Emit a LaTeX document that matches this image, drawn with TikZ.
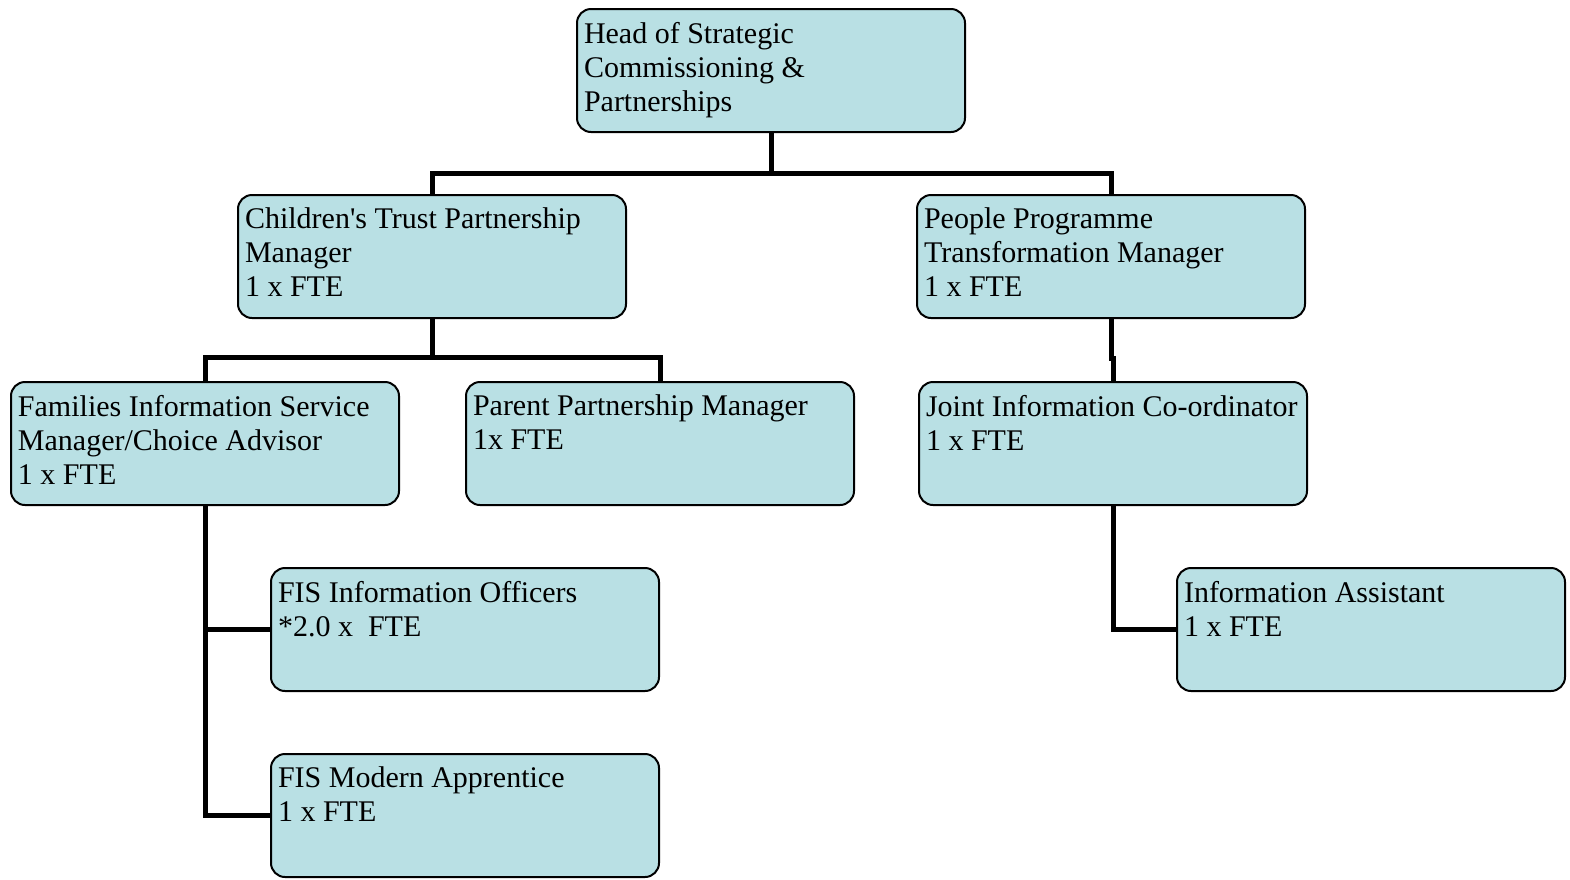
\documentclass[tikz,border=0pt]{standalone}
\usepackage{fontspec}
\setmainfont{Liberation Serif}
\definecolor{boxfill}{RGB}{185,224,228}
\newcommand{\boxtext}[1]{\parbox[c][61.5pt][t]{187pt}{\vspace{6.5pt}\raggedright #1}}
\tikzset{
	unit/.style={draw, line width=1pt, rounded corners=7pt, fill=boxfill, anchor=north west,
		inner xsep=3.5pt, inner ysep=0pt, font=\fontsize{15}{17}\selectfont},
	link/.style={line width=2.5pt}
}
\begin{document}
\begin{tikzpicture}[x=0.5pt, y=-0.5pt]
	\useasboundingbox (0, 0) rectangle (1570, 879);
	% boxes
	\node[unit] (head) at (576, 8) {\boxtext{Head of Strategic\\Commissioning \&\\Partnerships}};
	\node[unit] (trust) at (237, 194) {\boxtext{Children\textquotesingle s Trust Partnership\\Manager\\1 x FTE}};
	\node[unit] (people) at (916, 194) {\boxtext{People Programme\\Transformation Manager\\1 x FTE}};
	\node[unit] (families) at (10, 381) {\boxtext{Families Information Service\\Manager/Choice Advisor\\1 x FTE}};
	\node[unit] (parent) at (465, 381) {\boxtext{Parent Partnership Manager\\1x FTE}};
	\node[unit] (joint) at (918, 381) {\boxtext{Joint Information Co-ordinator\\1 x FTE}};
	\node[unit] (officers) at (270, 567) {\boxtext{FIS Information Officers\\{}*2.0 x\ \ FTE}};
	\node[unit] (assistant) at (1176, 567) {\boxtext{Information Assistant\\1 x FTE}};
	\node[unit] (apprentice) at (270, 753) {\boxtext{FIS Modern Apprentice\\1 x FTE}};
	% lines
	\draw[link] (head.south) -- ++(0, 40) -| (trust.north);
	\draw[link] (head.south) -- ++(0, 40) -| (people.north);
	\draw[link] (trust.south) -- ++(0, 38) -| (families.north);
	\draw[link] (trust.south) -- ++(0, 38) -| (parent.north);
	\draw[link] (people.south) -- ++(0, 39) -| (joint.north);
	\draw[link] (families.south) |- (officers.west);
	\draw[link] (families.south) |- (apprentice.west);
	\draw[link] (joint.south) |- (assistant.west);
\end{tikzpicture}
\end{document}
